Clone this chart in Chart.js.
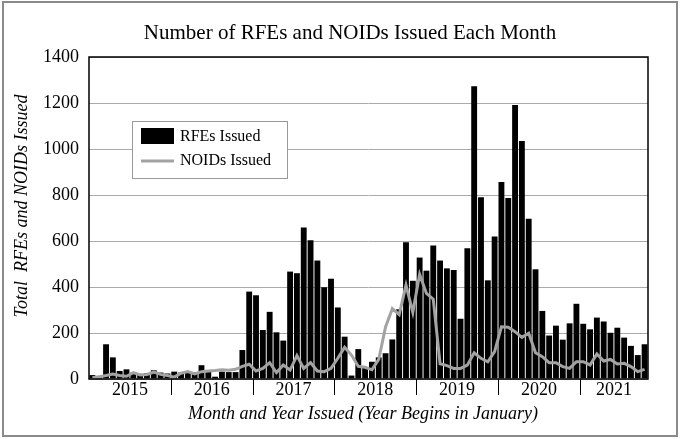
<!DOCTYPE html>
<html>
<head>
<meta charset="utf-8">
<script src="https://cdn.jsdelivr.net/npm/chart.js@4.4.1/dist/chart.umd.min.js"></script>
<style>
  html, body { margin: 0; padding: 0; background: #fff; }
  #wrap { position: relative; width: 680px; height: 439px; }
</style>
</head>
<body>
<div id="wrap"><canvas id="chart"></canvas></div>
<script>
const years = ['2015', '2016', '2017', '2018', '2019', '2020', '2021'];
const monthNames = ['Jan', 'Feb', 'Mar', 'Apr', 'May', 'Jun', 'Jul', 'Aug', 'Sep', 'Oct', 'Nov', 'Dec'];

// RFEs issued per month, Jan 2015 - Oct 2021
const rfes = [
  17, 10, 151, 94, 35, 42, 28, 22, 25, 38, 28, 24,
  32, 28, 26, 28, 60, 38, 10, 32, 30, 30, 126, 380,
  364, 213, 292, 203, 167, 467, 460, 659, 603, 515, 399, 436,
  311, 184, 15, 130, 48, 75, 94, 112, 172, 303, 595, 427,
  528, 471, 580, 515, 481, 474, 262, 569, 1273, 790, 429, 620,
  857, 787, 1191, 1035, 697, 477, 296, 189, 232, 171, 242, 327,
  240, 216, 267, 250, 201, 223, 180, 144, 104, 151
];

// NOIDs issued per month
const noids = [
  5, 10, 15, 22, 15, 12, 28, 18, 20, 30, 20, 15,
  8, 25, 32, 22, 32, 35, 37, 40, 38, 42, 55, 64,
  35, 46, 71, 28, 61, 39, 102, 46, 71, 35, 32, 46,
  90, 138, 104, 55, 51, 40, 85, 226, 306, 280, 408, 290,
  455, 372, 347, 66, 58, 46, 46, 60, 114, 90, 75, 119,
  227, 225, 206, 181, 199, 114, 97, 71, 71, 54, 46, 75,
  75, 61, 109, 78, 85, 65, 68, 54, 32, 42
];

const yTicks = [0, 200, 400, 600, 800, 1000, 1200, 1400];

const labels = [];
years.forEach(y => monthNames.forEach(m => labels.push(m + ' ' + y)));
labels.length = rfes.length;

const SERIF = '"Liberation Serif", "Times New Roman", serif';

// titles, year labels, plot frame and legend
const decor = {
  id: 'decor',
  beforeDraw(chart) {
    const ctx = chart.ctx;
    ctx.save();
    ctx.fillStyle = '#fff';
    ctx.fillRect(0, 0, chart.width, chart.height);
    ctx.restore();
  },
  afterDraw(chart, args, opts) {
    const { ctx, chartArea: a } = chart;
    const x = chart.scales.x;
    ctx.save();

    // outer frame
    ctx.strokeStyle = '#8a8a8a';
    ctx.lineWidth = 2;
    ctx.strokeRect(3, 2, 674, 434);

    // plot frame
    ctx.strokeStyle = '#000';
    ctx.lineWidth = 1.5;
    ctx.strokeRect(a.left, a.top, a.right - a.left, a.bottom - a.top);

    // year ticks and labels
    const step = x.getPixelForValue(1) - x.getPixelForValue(0);
    ctx.fillStyle = '#000';
    ctx.lineWidth = 1;
    ctx.font = '18px ' + SERIF;
    ctx.textAlign = 'center';
    ctx.textBaseline = 'middle';
    years.forEach((yr, i) => {
      const first = i * 12;
      const last = Math.min(first + 11, labels.length - 1);
      const left = x.getPixelForValue(first) - step / 2;
      const right = x.getPixelForValue(last) + step / 2;
      if (i > 0) {
        ctx.beginPath();
        ctx.moveTo(Math.round(left) + 0.5, a.bottom);
        ctx.lineTo(Math.round(left) + 0.5, a.bottom + 16);
        ctx.stroke();
      }
      ctx.fillText(yr, (left + right) / 2, a.bottom + 11);
    });

    // main title
    ctx.font = '21px ' + SERIF;
    ctx.fillText(opts.title, 350, 33);

    // axis titles
    ctx.font = 'italic 18px ' + SERIF;
    ctx.fillText(opts.xTitle, 363, 414);
    ctx.save();
    ctx.translate(22, 206);
    ctx.rotate(-Math.PI / 2);
    ctx.fillText(opts.yTitle, 0, 0);
    ctx.restore();

    // legend
    const lg = opts.legend;
    ctx.fillStyle = '#fff';
    ctx.fillRect(lg.x, lg.y, lg.w, lg.h);
    ctx.strokeStyle = '#999';
    ctx.lineWidth = 1;
    ctx.strokeRect(lg.x + 0.5, lg.y + 0.5, lg.w, lg.h);
    const ds = chart.data.datasets;
    ctx.font = '16px ' + SERIF;
    ctx.textAlign = 'left';
    ctx.fillStyle = ds[0].backgroundColor;
    ctx.fillRect(lg.x + 9, lg.y + 7, 33, 16);
    ctx.strokeStyle = ds[1].borderColor;
    ctx.lineWidth = 3;
    ctx.beginPath();
    ctx.moveTo(lg.x + 9, lg.y + 40);
    ctx.lineTo(lg.x + 42, lg.y + 40);
    ctx.stroke();
    ctx.fillStyle = '#000';
    ctx.fillText(ds[0].label, lg.x + 48, lg.y + 16);
    ctx.fillText(ds[1].label, lg.x + 48, lg.y + 40);

    ctx.restore();
  }
};

const chart = new Chart(document.getElementById('chart'), {
  type: 'bar',
  data: {
    labels: labels,
    datasets: [
      {
        label: 'RFEs Issued',
        data: rfes,
        backgroundColor: '#000',
        barPercentage: 0.86,
        categoryPercentage: 1,
        order: 2
      },
      {
        type: 'line',
        label: 'NOIDs Issued',
        data: noids,
        borderColor: '#a3a3a3',
        borderWidth: 3,
        pointRadius: 0,
        tension: 0,
        fill: false,
        order: 1
      }
    ]
  },
  options: {
    responsive: true,
    maintainAspectRatio: false,
    animation: false,
    layout: { padding: { left: 0, right: 32, top: 57, bottom: 0 } },
    plugins: {
      legend: { display: false },
      tooltip: { enabled: false },
      decor: {
        title: 'Number of RFEs and NOIDs Issued Each Month',
        xTitle: 'Month and Year Issued (Year Begins in January)',
        yTitle: 'Total  RFEs and NOIDs Issued',
        legend: { x: 132, y: 121, w: 155, h: 57 }
      }
    },
    scales: {
      x: {
        grid: { display: false },
        border: { display: false },
        ticks: { display: false },
        afterFit(scale) { scale.height = 60; }
      },
      y: {
        min: 0,
        max: 1400,
        afterBuildTicks(scale) { scale.ticks = yTicks.map(v => ({ value: v })); },
        ticks: {
          padding: 10,
          color: '#000',
          font: { family: SERIF, size: 18 },
          callback: v => String(v)
        },
        grid: { color: '#aaa', lineWidth: 1, drawTicks: false },
        border: { display: false },
        afterFit(scale) { scale.width = 89; }
      }
    }
  },
  plugins: [decor]
});
</script>
</body>
</html>
